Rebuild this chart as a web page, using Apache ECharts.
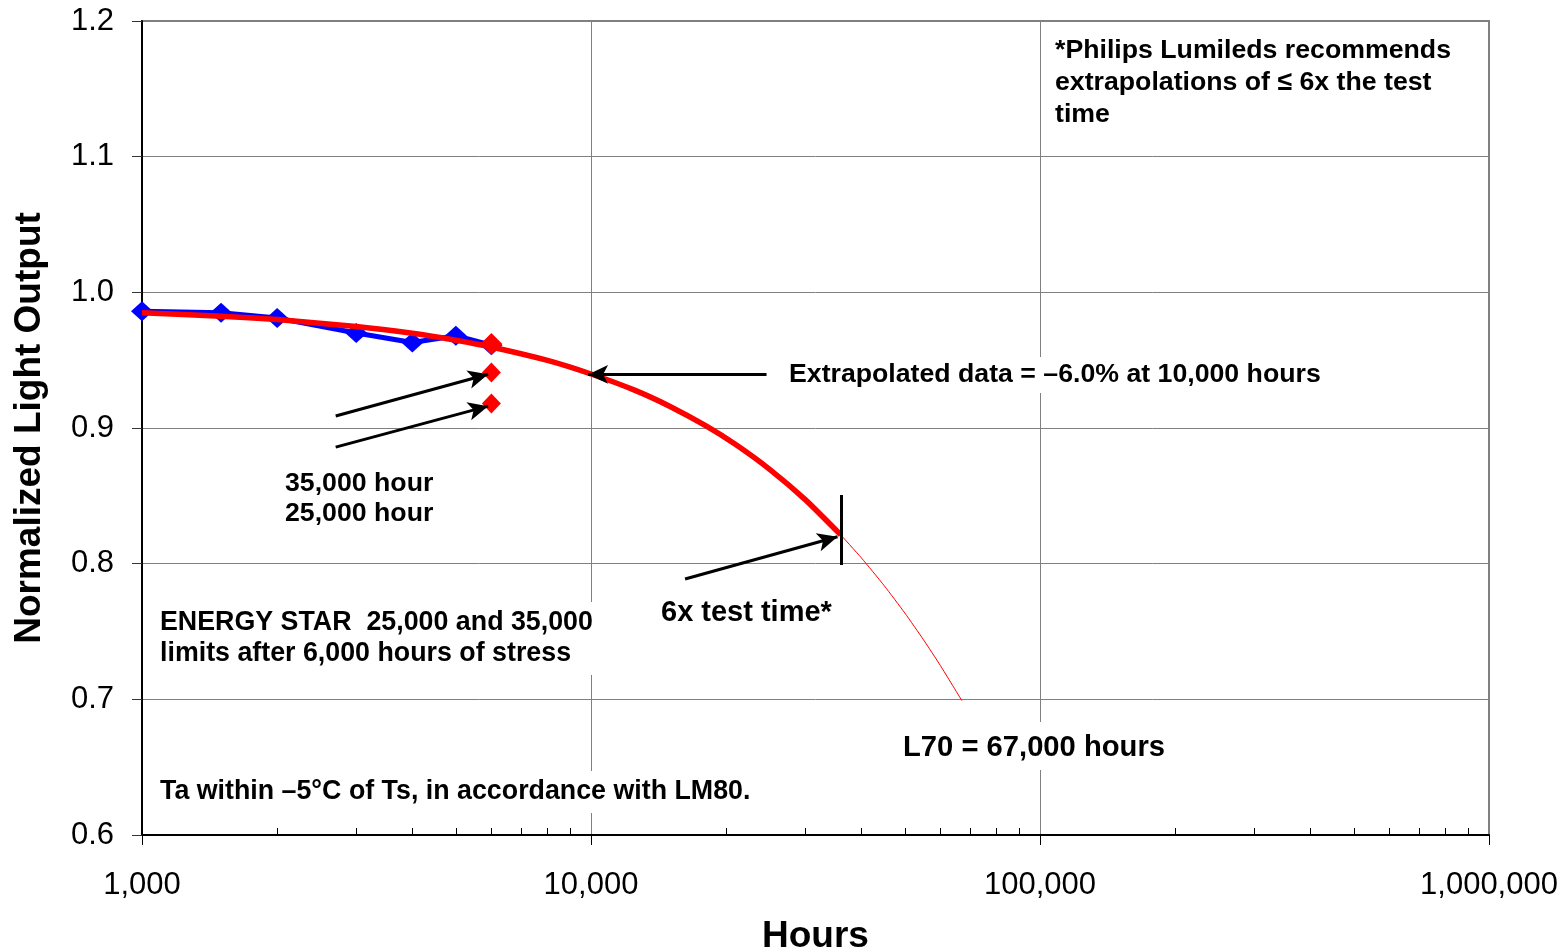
<!DOCTYPE html>
<html><head><meta charset="utf-8">
<script src="https://cdn.jsdelivr.net/npm/echarts@6/dist/echarts.min.js"></script>
<style>html,body{margin:0;padding:0;background:#fff}#c{width:1568px;height:952px}</style>
</head><body><div id="c"></div>
<script>
// ---- data ----
const measuredHours  = [1000, 1500, 2000, 3000, 4000, 5000, 6000];
const measuredOutput = [0.986, 0.985, 0.981, 0.970, 0.963, 0.968, 0.961];

const limitHours  = [6000, 6000, 6000];
const limitOutput = [0.962, 0.941, 0.918];

const fitHours  = [1000, 1500, 2000, 3000, 4000, 5000, 6000, 8000, 10000, 12500, 15000, 18000, 21000, 25000, 30000, 36000];
const fitOutput = [0.9850, 0.9824, 0.9799, 0.9748, 0.9698, 0.9647, 0.9597, 0.9498, 0.9398, 0.9279, 0.9159, 0.9017, 0.8878, 0.8695, 0.8472, 0.8212];

const extrapHours  = [36000, 40000, 45000, 50000, 55000, 60000, 67000];
const extrapOutput = [0.8212, 0.8043, 0.7837, 0.7636, 0.7440, 0.7249, 0.6990];

const xTickValues = [1000, 10000, 100000, 1000000];
const yTickLabels = ['0.6', '0.7', '0.8', '0.9', '1.0', '1.1', '1.2'];

// annotation arrows (data coordinates: hours, output)
const arrowFrom = [[2700, 0.9088], [2700, 0.8859], [24600, 0.9395], [16200, 0.7887]];
const arrowTo   = [[5900, 0.9396], [5900, 0.9161], [9850, 0.9395], [35400, 0.8198]];
const sixXMarker = [[36000, 0.8506], [36000, 0.7990]];

const minorTickHours = [];
[1000, 10000, 100000].forEach(d => { for (let k = 2; k <= 9; k++) minorTickHours.push(d * k); });

const FONT = '"Liberation Sans", Arial, sans-serif';
const pairs = (xs, ys) => xs.map((x, i) => [x, ys[i]]);
const commas = v => Math.round(v).toString().replace(/\B(?=(\d{3})+(?!\d))/g, ',');

const arrowData = arrowFrom.map((f, i) => [
  { coord: f, symbol: 'none' },
  { coord: arrowTo[i], symbol: 'arrow', symbolSize: [14, 20] }
]);
arrowData.push([
  { coord: sixXMarker[0], symbol: 'none' },
  { coord: sixXMarker[1], symbol: 'none' }
]);

const chart = echarts.init(document.getElementById('c'));
chart.setOption({
  animation: false,
  backgroundColor: '#fff',
  grid: { left: 142, right: 79, top: 21, bottom: 117, outerBoundsMode: 'none', containLabel: false,
          show: true, borderColor: '#808080', borderWidth: 2, backgroundColor: 'transparent' },
  xAxis: {
    type: 'log', logBase: 10, min: xTickValues[0], max: xTickValues[xTickValues.length - 1],
    name: 'Hours', nameLocation: 'middle', nameGap: 83,
    nameTextStyle: { fontFamily: FONT, fontSize: 37, fontWeight: 'bold', color: '#000' },
    axisLine: { show: true, lineStyle: { color: '#000', width: 2 } },
    axisTick: { show: true, length: 10, lineStyle: { color: '#000', width: 1 } },
    axisLabel: { fontFamily: FONT, fontSize: 31, color: '#000', margin: 35, formatter: commas },
    splitLine: { show: true, lineStyle: { color: '#808080', width: 1 } },
    minorTick: { show: false }
  },
  yAxis: {
    type: 'value', min: 0.6, max: 1.2, interval: 0.1,
    name: 'Normalized Light Output', nameLocation: 'middle', nameGap: 94,
    nameTextStyle: { fontFamily: FONT, fontSize: 37, fontWeight: 'bold', color: '#000' },
    axisLine: { show: true, lineStyle: { color: '#000', width: 2 } },
    axisTick: { show: true, length: 10, lineStyle: { color: '#333', width: 1 } },
    axisLabel: { fontFamily: FONT, fontSize: 31, color: '#000', margin: 28,
      formatter: v => yTickLabels[Math.round((v - 0.6) * 10)] },
    splitLine: { show: true, lineStyle: { color: '#808080', width: 1 } }
  },
  series: [
    {
      name: 'Measured', type: 'line', data: pairs(measuredHours, measuredOutput),
      symbol: 'diamond', symbolSize: [22, 20], showAllSymbol: true,
      lineStyle: { color: '#0000ff', width: 5 }, itemStyle: { color: '#0000ff', opacity: 1 },
      z: 2, silent: true
    },
    {
      name: 'Fit', type: 'line', data: pairs(fitHours, fitOutput), smooth: 0.2,
      showSymbol: false, lineStyle: { color: '#ff0000', width: 5.5 }, z: 3, silent: true,
      markLine: {
        silent: true, animation: false, symbol: ['none', 'arrow'],
        label: { show: false }, emphasis: { disabled: true },
        lineStyle: { color: '#000', width: 3, type: 'solid', opacity: 1 },
        data: arrowData
      }
    },
    {
      name: 'Extrapolation', type: 'line', data: pairs(extrapHours, extrapOutput), smooth: 0.2,
      showSymbol: false, lineStyle: { color: '#ff0000', width: 1 }, z: 3, silent: true
    },
    {
      name: 'Limits', type: 'scatter', data: pairs(limitHours, limitOutput),
      symbol: 'diamond', symbolSize: (v, p) => (p.dataIndex === 0 ? [22, 22] : [19, 20]),
      itemStyle: { color: '#ff0000', opacity: 1 }, z: 4, silent: true
    },
    {
      name: 'minorTicks', type: 'custom', data: minorTickHours.map(h => [h, 0.6]), silent: true, z: 5, clip: false,
      renderItem: (params, api) => {
        const p = api.coord([api.value(0), api.value(1)]);
        const x = Math.round(p[0]) + 0.5;
        return { type: 'line', shape: { x1: x, y1: p[1], x2: x, y2: p[1] - 7 }, style: { stroke: '#000', lineWidth: 1 } };
      }
    }
  ],
  graphic: [
    { type: 'rect', z: 100, silent: true, shape: { x: 782, y: 357, width: 548, height: 36 }, style: { fill: '#fff' } },
    { type: 'rect', z: 100, silent: true, shape: { x: 150, y: 602, width: 452, height: 73 }, style: { fill: '#fff' } },
    { type: 'rect', z: 100, silent: true, shape: { x: 895, y: 722, width: 280, height: 48 }, style: { fill: '#fff' } },
    { type: 'rect', z: 100, silent: true, shape: { x: 152, y: 771, width: 610, height: 42 }, style: { fill: '#fff' } },
    { type: 'text', z: 101, silent: true, x: 1055, y: 35,
      style: { text: '*Philips Lumileds recommends\nextrapolations of \u2264 6x the test\ntime', fontFamily: FONT, fontSize: 26.7, fontWeight: 'bold', fill: '#000', lineHeight: 32, verticalAlign: 'top' } },
    { type: 'text', z: 101, silent: true, x: 789, y: 375,
      style: { text: 'Extrapolated data = \u20136.0% at 10,000 hours', fontFamily: FONT, fontSize: 26.7, fontWeight: 'bold', fill: '#000', verticalAlign: 'middle' } },
    { type: 'text', z: 101, silent: true, x: 285, y: 469,
      style: { text: '35,000 hour\n25,000 hour', fontFamily: FONT, fontSize: 26.7, fontWeight: 'bold', fill: '#000', lineHeight: 30, verticalAlign: 'top' } },
    { type: 'text', z: 101, silent: true, x: 160, y: 607,
      style: { text: 'ENERGY STAR  25,000 and 35,000\nlimits after 6,000 hours of stress', fontFamily: FONT, fontSize: 26.8, fontWeight: 'bold', fill: '#000', lineHeight: 31, verticalAlign: 'top' } },
    { type: 'text', z: 101, silent: true, x: 661, y: 613,
      style: { text: '6x test time*', fontFamily: FONT, fontSize: 29, fontWeight: 'bold', fill: '#000', verticalAlign: 'middle' } },
    { type: 'text', z: 101, silent: true, x: 903, y: 748,
      style: { text: 'L70 = 67,000 hours', fontFamily: FONT, fontSize: 29.2, fontWeight: 'bold', fill: '#000', verticalAlign: 'middle' } },
    { type: 'text', z: 101, silent: true, x: 160, y: 792,
      style: { text: 'Ta within \u20135\u00b0C of Ts, in accordance with LM80.', fontFamily: FONT, fontSize: 26.8, fontWeight: 'bold', fill: '#000', verticalAlign: 'middle' } }
  ]
});
</script>
</body></html>
